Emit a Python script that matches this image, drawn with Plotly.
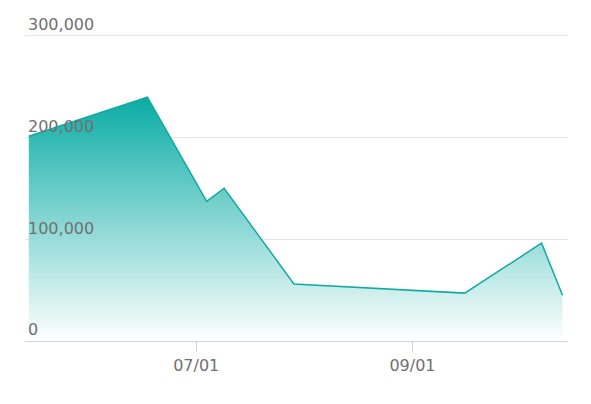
import plotly.graph_objects as go

dates = ['2023-05-14', '2023-06-17', '2023-07-04', '2023-07-09',
         '2023-07-29', '2023-09-16', '2023-10-08', '2023-10-14']
values = [201000, 239500, 137000, 150000, 56000, 47000, 96000, 45000]

TEAL = '#12a9a1'

fig = go.Figure()
fig.add_trace(go.Scatter(
    x=dates, y=values, mode='lines',
    line=dict(color=TEAL, width=1.5),
    fill='tozeroy',
    fillgradient=dict(type='vertical',
                      colorscale=[[0, 'rgba(255,255,255,1)'], [1, '#0aaca5']]),
    showlegend=False,
))

# page body has an 8px margin, so the figure is drawn 8px smaller
fig.update_layout(
    width=583, height=396,
    margin=dict(l=17, r=23, t=5, b=63),
    paper_bgcolor='white', plot_bgcolor='white',
    font=dict(family='DejaVu Sans', size=16, color='#707070'),
    xaxis=dict(
        type='date', range=['2023-05-12 22:00', '2023-10-15 14:00'],
        tick0='2023-07-01', dtick='M2', tickformat='%m/%d',
        showgrid=False, showline=True, linecolor='#ccd6eb', linewidth=1,
        ticks='outside', ticklen=10, tickcolor='#ccd6eb',
        zeroline=False, automargin=False,
    ),
    yaxis=dict(
        range=[0, 322000], tickvals=[0, 100000, 200000, 300000], tickformat=',d',
        ticklabelposition='inside top',
        tickfont=dict(family='DejaVu Sans', size=16, color='#707070'),
        showgrid=True, gridcolor='#e6e6e6', gridwidth=1,
        zeroline=False, showline=False, automargin=False,
    ),
)

fig.write_html("out.html")
